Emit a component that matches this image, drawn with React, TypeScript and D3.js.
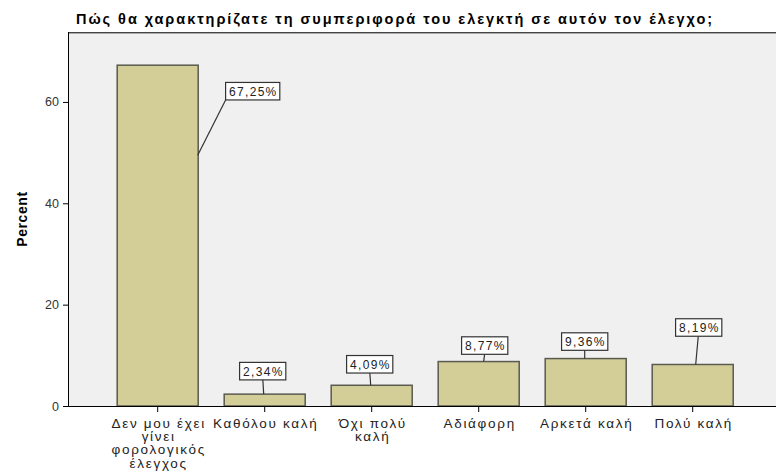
import * as d3 from "d3";

const categories = [
  ["Δεν μου έχει", "γίνει", "φορολογικός", "έλεγχος"],
  ["Καθόλου καλή"],
  ["Όχι πολύ", "καλή"],
  ["Αδιάφορη"],
  ["Αρκετά καλή"],
  ["Πολύ καλή"],
];
const percents = [67.25, 2.34, 4.09, 8.77, 9.36, 8.19];
const yTicks = [0, 20, 40, 60];

// label box placement relative to the bar top (px), and where the leader line meets the bar
const labelOffsets = [
  { dx: 95, dy: 26, ax: 40, ay: 49.5 },
  { dx: -2, dy: -23, ax: -1, ay: null },
  { dx: -2, dy: -21, ax: -1, ay: null },
  { dx: 6, dy: -16, ax: 5, ay: null },
  { dx: -1, dy: -17, ax: -1, ay: null },
  { dx: 6, dy: -37, ax: 3, ay: null },
];

const W = 776;
const H = 473;
const plot = { left: 68, top: 32, right: 790, bottom: 406 };
const font = "'Liberation Sans', Arial, sans-serif";

// rough Arial advance widths (em) for the label characters
const charW: Record<string, number> = { ",": 0.278, "%": 0.889 };
const labelWidth = (s: string, size: number, spacing: number) =>
  s.split("").reduce((w, c) => w + (charW[c] ?? 0.556) * size + spacing, 0) - spacing;

export default function App() {
  const x = d3
    .scaleBand<number>()
    .domain(d3.range(percents.length))
    .range([104.2, 746.2])
    .paddingInner(0.243)
    .paddingOuter(0.1215);
  const y = d3.scaleLinear().domain([0, 73.8]).range([plot.bottom, plot.top]);

  const fmt = (v: number) => v.toFixed(2).replace(".", ",") + "%";

  return (
    <svg
      width={W}
      height={H}
      style={{ position: "absolute", left: 0, top: 0, background: "#fff" }}
      fontFamily={font}
    >
      <text x={76} y={24} fontSize={14.5} fontWeight="bold" fill="#000" letterSpacing={1.95}>
        Πώς θα χαρακτηρίζατε τη συμπεριφορά του ελεγκτή σε αυτόν τον έλεγχο;
      </text>

      <rect x={plot.left} y={plot.top} width={plot.right - plot.left} height={plot.bottom - plot.top} fill="#f0f0f0" />
      <line x1={plot.left} x2={W} y1={plot.top + 0.5} y2={plot.top + 0.5} stroke="#444" strokeWidth={1} />
      <line x1={plot.left} x2={W} y1={plot.top + 1.5} y2={plot.top + 1.5} stroke="#aaa" strokeWidth={1} />

      {percents.map((v, i) => (
        <rect
          key={i}
          x={x(i)!}
          y={y(v)}
          width={x.bandwidth()}
          height={y(0) - y(v)}
          fill="#d3ce98"
          stroke="#5a5a50"
          strokeWidth={1.5}
        />
      ))}

      {/* axes */}
      <line x1={plot.left + 0.5} x2={plot.left + 0.5} y1={plot.top} y2={plot.bottom} stroke="#000" />
      <line x1={plot.left} x2={W} y1={plot.bottom + 0.5} y2={plot.bottom + 0.5} stroke="#000" />
      {yTicks.map((t) => (
        <g key={t}>
          <line x1={plot.left - 5} x2={plot.left} y1={y(t) + 0.5} y2={y(t) + 0.5} stroke="#000" />
          <text x={59} y={y(t) + 4.5} textAnchor="end" fontSize={12.5} fill="#333">
            {t}
          </text>
        </g>
      ))}
      {categories.map((lines, i) => {
        const cx = x(i)! + x.bandwidth() / 2;
        return (
          <g key={i}>
            <line x1={cx} x2={cx} y1={plot.bottom} y2={plot.bottom + 6} stroke="#000" />
            {lines.map((ln, j) => (
              <text
                key={j}
                x={cx + 1}
                y={428 + j * 13.2}
                textAnchor="middle"
                fontSize={13.5}
                letterSpacing={1.7}
                fill="#222"
              >
                {ln}
              </text>
            ))}
          </g>
        );
      })}

      <text
        transform={`translate(27,219) rotate(-90)`}
        textAnchor="middle"
        fontSize={14}
        fontWeight="bold"
        letterSpacing={0.6}
        fill="#000"
      >
        Percent
      </text>

      {/* data labels */}
      {percents.map((v, i) => {
        const o = labelOffsets[i];
        const cx = x(i)! + x.bandwidth() / 2;
        const top = y(v);
        const label = fmt(v);
        const tw = labelWidth(label, 12, 1.3);
        const bw = tw + 7;
        const bh = 17.5;
        const bx = cx + o.dx - bw / 2;
        const by = top + o.dy - bh / 2;
        const endX = cx + o.ax;
        const endY = o.ay === null ? top : y(o.ay);
        const startX = o.ay === null ? cx + o.dx + (o.ax - o.dx) * 0.15 : bx;
        return (
          <g key={i}>
            <line x1={startX} y1={by + bh} x2={endX} y2={endY} stroke="#333" strokeWidth={1.2} />
            <rect x={bx} y={by} width={bw} height={bh} fill="#fff" stroke="#333" strokeWidth={1.2} />
            <text
              x={bx + 3.5}
              y={by + 13.2}
              fontSize={12}
              letterSpacing={1.3}
              fill="#222"
            >
              {label}
            </text>
          </g>
        );
      })}
    </svg>
  );
}
